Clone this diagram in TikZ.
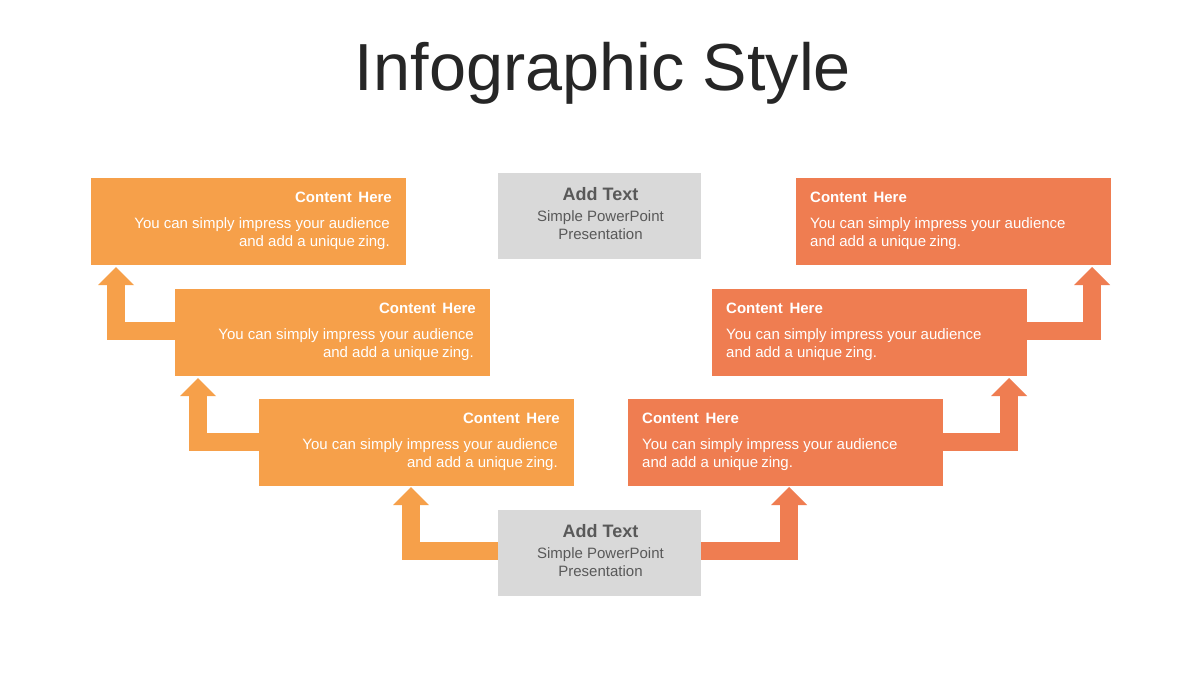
\documentclass[tikz,border=0pt]{standalone}
\usepackage{fontspec}
\setmainfont{Liberation Sans}
\usetikzlibrary{calc}
\definecolor{orng}{HTML}{F6A04A}
\definecolor{corl}{HTML}{EF7D51}
\definecolor{graybox}{HTML}{D9D9D9}
\definecolor{graytxt}{HTML}{595959}
\definecolor{titletxt}{HTML}{262626}
\tikzset{
  box/.style={inner sep=0pt, outer sep=0pt, minimum width=315pt, minimum height=87pt, anchor=north west},
  obox/.style={box, fill=orng},
  cbox/.style={box, fill=corl},
  gbox/.style={inner sep=0pt, outer sep=0pt, minimum width=203pt, minimum height=86pt, anchor=north west, fill=graybox},
  headtxt/.style={inner sep=0pt, text=white, font=\fontsize{15}{18}\selectfont\bfseries},
  bodytxt/.style={inner sep=0pt, text=white, font=\fontsize{15}{18}\selectfont},
  ghead/.style={inner sep=0pt, text=graytxt, font=\fontsize{18}{21}\selectfont\bfseries, anchor=base},
  gbody/.style={inner sep=0pt, text=graytxt, font=\fontsize{15}{18}\selectfont, anchor=base},
}
% elbow arrow: #1 source x, #2 bar centre y, #3 shaft centre x, #4 tip y, #5 colour
\newcommand\elbowL[5]{%
  \fill[#5] (#1,#2-9) rectangle (#3-9,#2+9);
  \fill[#5] (#3-9,#2+9) rectangle (#3+9,#4+18);
  \fill[#5] (#3-18,#4+18) -- (#3,#4) -- (#3+18,#4+18) -- cycle;}
\newcommand\elbowR[5]{%
  \fill[#5] (#1,#2-9) rectangle (#3+9,#2+9);
  \fill[#5] (#3-9,#2+9) rectangle (#3+9,#4+18);
  \fill[#5] (#3-18,#4+18) -- (#3,#4) -- (#3+18,#4+18) -- cycle;}
\begin{document}
\begin{tikzpicture}[x=1pt,y=-1pt]
\useasboundingbox[fill=white] (0,0) rectangle (1200,675);
\node[inner sep=0pt, anchor=base, text=titletxt, font=\fontsize{66.6}{80}\selectfont] (title) at (603,90) {Infographic Style};

% boxes
\node[obox] (L1) at (91,178) {};
\node[obox] (L2) at (175,289) {};
\node[obox] (L3) at (259,399) {};
\node[cbox] (R1) at (796,178) {};
\node[cbox] (R2) at (712,289) {};
\node[cbox] (R3) at (628,399) {};
\node[gbox] (G1) at (498,173) {};
\node[gbox] (G2) at (498,510) {};

% arrows (connectors)
\elbowL{498}{551}{411}{487}{orng}
\elbowL{259}{442}{198}{378}{orng}
\elbowL{175}{331}{116}{267}{orng}
\elbowR{701}{551}{789}{487}{corl}
\elbowR{943}{442}{1009}{378}{corl}
\elbowR{1027}{331}{1092}{267}{corl}

% left box texts
\foreach \b in {L1,L2,L3}{
  \node[headtxt, anchor=base east] (\b h) at ($(\b.north east)+(-14,24)$) {Content\hspace{2.5pt} Here};
  \node[bodytxt, anchor=base east] (\b a) at ($(\b.north east)+(-16,50)$) {You can simply impress your audience};
  \node[bodytxt, anchor=base east] (\b b) at ($(\b.north east)+(-16,68)$) {and add a unique\hspace{-1pt} zing.};
}
\foreach \b in {R1,R2,R3}{
  \node[headtxt, anchor=base west] (\b h) at ($(\b.north west)+(14,24)$) {Content\hspace{2.5pt} Here};
  \node[bodytxt, anchor=base west] (\b a) at ($(\b.north west)+(14,50)$) {You can simply impress your audience};
  \node[bodytxt, anchor=base west] (\b b) at ($(\b.north west)+(14,68)$) {and add a unique\hspace{-1pt} zing.};
}
% gray box texts
\foreach \b in {G1,G2}{
  \node[ghead] (\b h) at ($(\b.north)+(1,27)$) {Add Text};
  \node[gbody] (\b a) at ($(\b.north)+(1,48)$) {Simple PowerPoint};
  \node[gbody] (\b b) at ($(\b.north)+(1,66)$) {Presentation};
}
\end{tikzpicture}
\end{document}
